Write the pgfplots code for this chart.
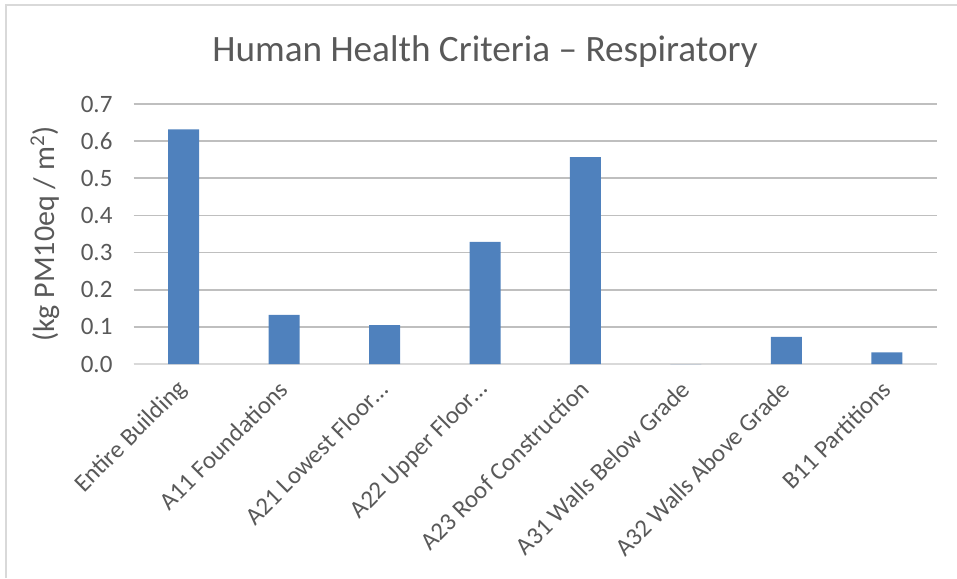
\documentclass[border=0pt]{standalone}
\usepackage{pgfplots}
\pgfplotsset{compat=1.18}
\usepackage{fontspec}
\setmainfont{Carlito}
\definecolor{txt}{HTML}{595959}
\definecolor{grid}{HTML}{D9D9D9}
\definecolor{bar}{HTML}{4F81BD}
\begin{document}
\begin{tikzpicture}
\path[use as bounding box] (0,0) rectangle (478.5pt,289pt);
\draw[grid, line width=0.8pt] (3pt,0) -- (3pt,286.5pt) -- (478.5pt,286.5pt);
\node[txt, font=\fontsize{18.6}{22}\selectfont] at (242.5pt,263pt) {Human Health Criteria – Respiratory};
\begin{axis}[
  at={(66.75pt,107pt)}, anchor=south west,
  scale only axis, width=401.75pt, height=130pt,
  xmin=-0.5, xmax=7.5, ymin=0, ymax=0.7,
  ytick={0,0.1,0.2,0.3,0.4,0.5,0.6,0.7},
  /pgf/number format/fixed, /pgf/number format/fixed zerofill, /pgf/number format/precision=1, /pgf/number format/assume math mode=true,
  yticklabel style={xshift=-7pt, font=\fontsize{12.5}{15}\selectfont},
  xtick=data,
  xticklabels={Entire Building, A11 Foundations, A21 Lowest Floor\dots, A22 Upper Floor\dots, A23 Roof Construction, A31 Walls Below Grade, A32 Walls Above Grade, B11 Partitions},
  xticklabel style={rotate=45, anchor=east, xshift=-4.25pt, yshift=-7.3pt, font=\fontsize{12.4}{15}\selectfont},
  ticklabel style={txt},
  xmajorgrids=false, ymajorgrids, major grid style={grid, line width=0.8pt},
  axis line style={draw=none},
  tick style={draw=none},
  major tick length=0pt,
  ylabel={(kg PM10eq / m\textsuperscript{2})},
  ylabel style={txt, font=\fontsize{15}{18}\selectfont, at={(-44.25pt,65pt)}, anchor=center, rotate=0},
  clip=false,
]
\draw[grid, line width=0.8pt] (axis cs:-0.5,0) -- (axis cs:7.5,0);
\addplot[ybar, bar width=15.5pt, fill=bar, draw=none] coordinates {
(0,0.632) (1,0.132) (2,0.105) (3,0.329) (4,0.557) (5,0) (6,0.073) (7,0.031)
};
\end{axis}
\end{tikzpicture}
\end{document}
